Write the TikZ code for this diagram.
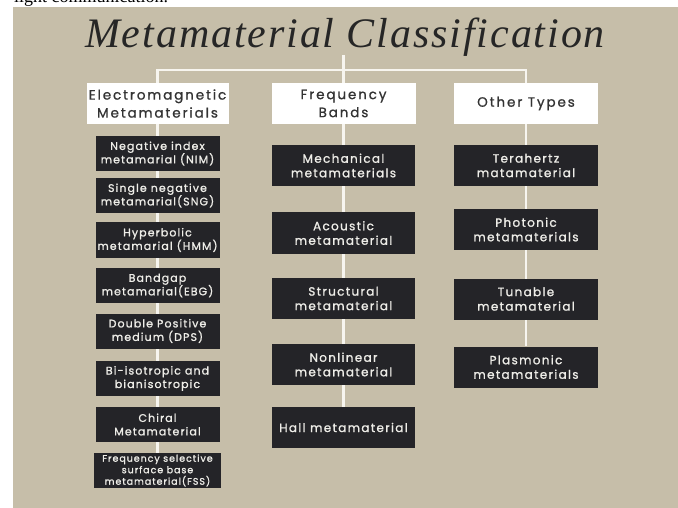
\documentclass[tikz,border=0pt]{standalone}
\usepackage{fontspec}
\usetikzlibrary{backgrounds}
\setmainfont{Liberation Serif}
\newfontfamily\boxfont[LetterSpace=10,FakeBold=1.2]{Poppins}
\newfontfamily\midfont[LetterSpace=11,FakeBold=1.2]{Poppins}
\newfontfamily\headfont[LetterSpace=14,FakeBold=1.0]{Poppins}
\newfontfamily\titlefont[LetterSpace=4.5]{Liberation Serif}
\definecolor{beige}{HTML}{C6BEA9}
\definecolor{darkbox}{HTML}{242428}
\definecolor{boxtext}{HTML}{EEEDE8}
\definecolor{headtext}{HTML}{333333}
\definecolor{linecol}{HTML}{F7F5EF}
\tikzset{
  darkbox/.style={fill=darkbox, text=boxtext, inner sep=0pt, minimum height=35pt,
    minimum width=124pt, align=center, font=\boxfont\fontsize{11}{13.5}\selectfont},
  midbox/.style={darkbox, minimum height=41pt, minimum width=143pt,
    font=\midfont\fontsize{12}{14.5}\selectfont},
  headbox/.style={fill=white, text=headtext, inner sep=0pt, minimum height=41pt,
    minimum width=143pt, align=center, font=\headfont\fontsize{13.5}{18}\selectfont},
  conn/.style={draw=linecol, line width=2.4pt}
}
\begin{document}
\begin{tikzpicture}[x=1pt,y=-1pt]
\useasboundingbox (0,0) rectangle (678,508);
% partially visible text at the top edge
\node[anchor=base west, inner sep=0pt, font=\fontsize{18}{20}\selectfont] (topline) at (14,3) {light communication.};
% title
\node[anchor=base, inner sep=0pt, text=black!85, font=\titlefont\itshape\fontsize{42}{46}\selectfont] (title) at (345,48) {Metamaterial Classification};
\coordinate (stem) at (343.5,55);
\coordinate (hub) at (343.5,70);
% headers
\node[headbox, minimum width=142pt] (em) at (157.5,103.5) {Electromagnetic\\Metamaterials};
\node[headbox, minimum width=144pt] (fb) at (343.5,103.5) {Frequency\\Bands};
\node[headbox, minimum width=144pt] (ot) at (526,103.5) {Other Types};
% left column
\node[darkbox] (nim) at (157.5,153.5) {Negative index\\metamarial (NIM)};
\node[darkbox] (sng) at (157.5,195.5) {Single negative\\metamarial(SNG)};
\node[darkbox] (hmm) at (157.5,240) {Hyperbolic\\metamarial (HMM)};
\node[darkbox] (ebg) at (157.5,285.5) {Bandgap\\metamarial(EBG)};
\node[darkbox] (dps) at (157.5,331) {Double Positive\\medium (DPS)};
\node[darkbox] (bi) at (157.5,378.5) {Bi-isotropic and\\bianisotropic};
\node[darkbox] (chi) at (157.5,424.5) {Chiral\\Metamaterial};
\node[darkbox, minimum width=127pt, font=\boxfont\fontsize{9.5}{11.5}\selectfont] (fss) at (157.5,470.5) {Frequency selective\\surface base\\metamaterial(FSS)};
% middle column
\node[midbox] (mech) at (343.5,165.5) {Mechanical\\metamaterials};
\node[midbox] (acou) at (343.5,233) {Acoustic\\metamaterial};
\node[midbox] (stru) at (343.5,298.5) {Structural\\metamaterial};
\node[midbox] (nonl) at (343.5,364.5) {Nonlinear\\metamaterial};
\node[midbox] (hall) at (343.5,427.5) {Hall metamaterial};
% right column
\node[midbox, minimum width=144pt] (tera) at (526,165.5) {Terahertz\\matamaterial};
\node[midbox, minimum width=144pt] (phot) at (526,229.5) {Photonic\\metamaterials};
\node[midbox, minimum width=144pt] (tuna) at (526,299) {Tunable\\metamaterial};
\node[midbox, minimum width=144pt] (plas) at (526,367) {Plasmonic\\metamaterials};
\begin{scope}[on background layer]
  \fill[beige] (13,7) rectangle (678,508);
  \draw[conn] (stem) -- (hub);
  \draw[conn] (em.north) |- (hub) -| (ot.north);
  \draw[conn] (hub) -- (fb.north);
  \draw[conn] (em.south) -- (fss.north);
  \draw[conn] (fb.south) -- (hall.north);
  \draw[conn] (ot.south) -- (plas.north);
\end{scope}
\end{tikzpicture}
\end{document}
